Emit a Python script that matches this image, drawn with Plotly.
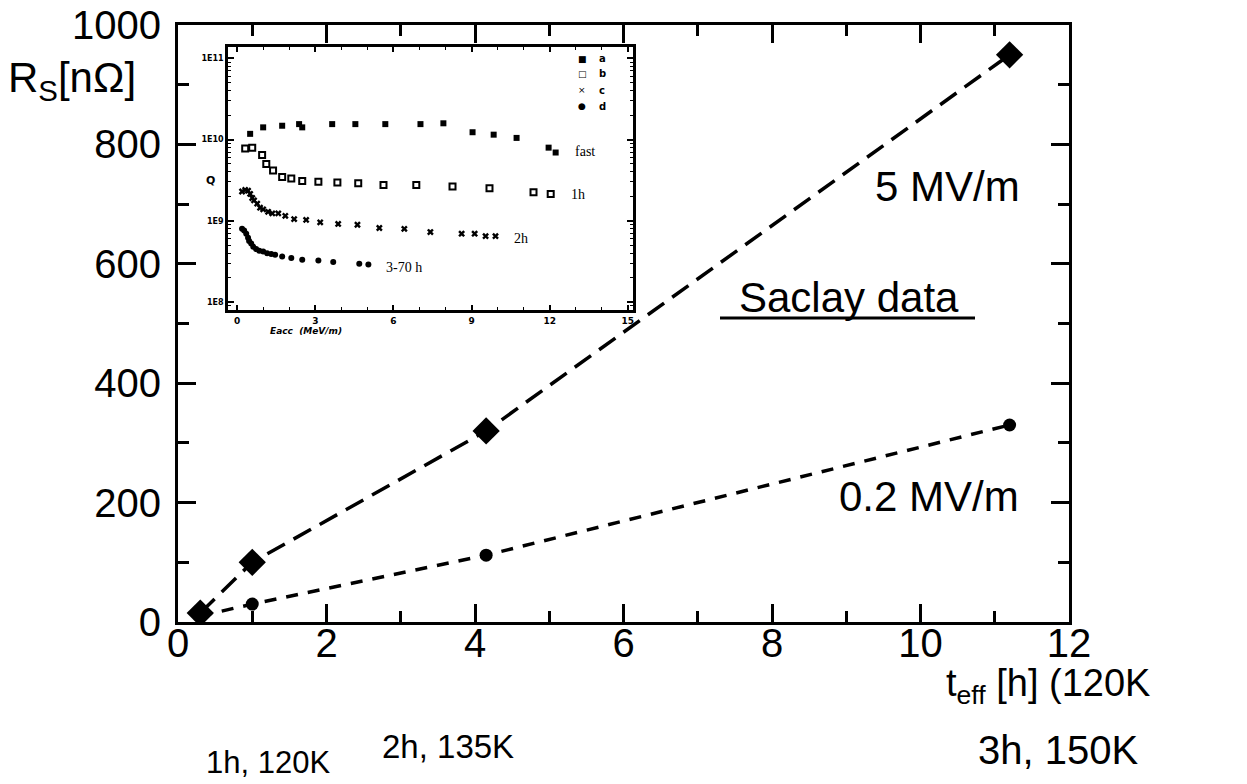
import numpy as np
import plotly.graph_objects as go

# ---------------- main chart data ----------------
t_eff = [0.3, 1.0, 4.15, 11.2]
rs_5mv = [15, 100, 320, 950]
t_eff_02 = [0.3, 1.0, 4.15, 11.2]
rs_02mv = [10, 30, 112, 330]

# ---------------- inset data (Q vs Eacc) ----------------
fast_e = [0.5, 1.0, 1.73, 2.38, 2.5, 3.65, 4.54, 5.69, 7.04, 7.92, 9.04, 9.85, 10.73, 11.96, 12.23]
fast_logq = [10.07, 10.15, 10.17, 10.19, 10.15, 10.19, 10.19, 10.19, 10.19, 10.20, 10.09, 10.06, 10.02, 9.90, 9.84]

h1_e = [0.31, 0.58, 0.96, 1.12, 1.38, 1.73, 2.08, 2.5, 3.12, 3.85, 4.65, 5.62, 6.88, 8.27, 9.69, 11.38, 12.04]
h1_logq = [9.89, 9.90, 9.81, 9.70, 9.62, 9.54, 9.52, 9.49, 9.48, 9.47, 9.46, 9.44, 9.44, 9.42, 9.40, 9.35, 9.33]

h2_e = [0.19, 0.31, 0.42, 0.5, 0.58, 0.65, 0.77, 0.88, 1.0, 1.19, 1.35, 1.58, 1.85, 2.19, 2.65, 3.19,
        3.88, 4.62, 5.46, 6.42, 7.42, 8.62, 9.12, 9.54, 9.92]
h2_logq = [9.36, 9.38, 9.37, 9.33, 9.28, 9.25, 9.21, 9.16, 9.14, 9.11, 9.09, 9.09, 9.06, 9.02, 9.01, 8.98,
           8.96, 8.95, 8.91, 8.90, 8.86, 8.84, 8.84, 8.81, 8.81]

h3_e = [0.19, 0.27, 0.35, 0.42, 0.46, 0.54, 0.62, 0.73, 0.85, 1.0, 1.15, 1.31, 1.46, 1.73, 2.08, 2.5,
        3.12, 3.69, 4.69, 5.04]
h3_logq = [8.90, 8.88, 8.84, 8.79, 8.75, 8.72, 8.68, 8.65, 8.63, 8.62, 8.60, 8.59, 8.58, 8.56, 8.54, 8.52,
           8.51, 8.49, 8.47, 8.46]

inset_xticks = [0, 3, 6, 9, 12, 15]
inset_yticks = [1e8, 1e9, 1e10, 1e11]
inset_yticktext = ["1E8", "1E9", "1E10", "1E11"]
main_xticks = [0, 2, 4, 6, 8, 10, 12]
main_yticks = [0, 200, 400, 600, 800, 1000]
legend_symbols = ["■", "□", "×", "●"]
legend_letters = ["a", "b", "c", "d"]

# ---------------- layout geometry ----------------
W, H = 1247, 784
PL, PR, PT, PB = 178, 1069, 25, 622


def px(x):
    return (x - PL) / (PR - PL)


def py(y):
    return (PB - y) / (PB - PT)


FONT = "Liberation Sans"
SERIF = "Liberation Serif"

fig = go.Figure()

fig.add_trace(go.Scatter(
    x=t_eff, y=rs_5mv, mode="lines+markers", showlegend=False,
    line=dict(color="black", width=3.5, dash="20px,10px"),
    marker=dict(symbol="diamond", size=21, color="black"),
    xaxis="x", yaxis="y"))
fig.add_trace(go.Scatter(
    x=t_eff_02, y=rs_02mv, mode="lines+markers", showlegend=False,
    line=dict(color="black", width=3.5, dash="12px,10px"),
    marker=dict(symbol="circle", size=13, color="black"),
    xaxis="x", yaxis="y"))


def q(vals):
    return [10 ** v for v in vals]


fig.add_trace(go.Scatter(x=fast_e, y=q(fast_logq), mode="markers", name="a", showlegend=False,
                         marker=dict(symbol="square", size=6, color="black"),
                         xaxis="x2", yaxis="y2"))
fig.add_trace(go.Scatter(x=h1_e, y=q(h1_logq), mode="markers", name="b", showlegend=False,
                         marker=dict(symbol="square-open", size=6, color="black", line=dict(width=2)),
                         xaxis="x2", yaxis="y2"))
fig.add_trace(go.Scatter(x=h2_e, y=q(h2_logq), mode="markers", name="c", showlegend=False,
                         marker=dict(symbol="x", size=6, color="black"),
                         xaxis="x2", yaxis="y2"))
fig.add_trace(go.Scatter(x=h3_e, y=q(h3_logq), mode="markers", name="d", showlegend=False,
                         marker=dict(symbol="circle", size=6, color="black"),
                         xaxis="x2", yaxis="y2"))

minor_log = [k * 10 ** d for d in range(7, 11) for k in range(2, 10)]

fig.update_layout(
    width=W, height=H,
    margin=dict(l=PL, r=W - PR, t=PT, b=H - PB, autoexpand=False),
    paper_bgcolor="white", plot_bgcolor="white",
    font=dict(family=FONT, color="black"),
    showlegend=False,
    xaxis=dict(range=[0, 12], domain=[0, 1], anchor="y", automargin=False,
               tickvals=main_xticks, ticks="inside", ticklen=18, tickwidth=2.5, tickcolor="black",
               minor=dict(ticks="inside", ticklen=11, tickwidth=2.5, dtick=1, tickcolor="black"),
               showline=True, linewidth=3, linecolor="black", mirror="ticks",
               showgrid=False, zeroline=False, tickfont=dict(size=40, family=FONT),
               ticklabelstandoff=-16, ticklabeloverflow="allow"),
    yaxis=dict(range=[0, 1000], domain=[0, 1], anchor="x", automargin=False,
               tickvals=main_yticks, ticks="inside", ticklen=18, tickwidth=2.5, tickcolor="black",
               minor=dict(ticks="inside", ticklen=11, tickwidth=2.5, dtick=100, tickcolor="black"),
               showline=True, linewidth=3, linecolor="black", mirror="ticks",
               showgrid=False, zeroline=False, tickfont=dict(size=40, family=FONT),
               ticklabelstandoff=6, ticklabeloverflow="allow"),
    xaxis2=dict(range=[-0.35, 15.2], domain=[px(228), px(633)], anchor="y2", automargin=False,
                tickvals=inset_xticks, ticks="inside", ticklen=5, tickwidth=1.5, tickcolor="black",
                minor=dict(ticks="inside", ticklen=3, tickwidth=1.2, dtick=1, tickcolor="black"),
                showline=True, linewidth=2.5, linecolor="black", mirror="ticks",
                showgrid=False, zeroline=False,
                tickfont=dict(size=9, family="DejaVu Sans", weight="bold")),
    yaxis2=dict(type="log", range=[7.9, 11.14], domain=[py(310), py(47)], anchor="x2", automargin=False,
                tickvals=inset_yticks, ticktext=inset_yticktext,
                ticks="inside", ticklen=6, tickwidth=1.5, tickcolor="black",
                minor=dict(ticks="inside", ticklen=3, tickwidth=1.2, tickvals=minor_log, tickcolor="black"),
                showline=True, linewidth=2.5, linecolor="black", mirror="ticks",
                showgrid=False, zeroline=False,
                tickfont=dict(size=8, family="DejaVu Sans", weight="bold")),
)

ann = []


def add_text(text, x, y, size, family=FONT, xanchor="center", yanchor="middle", **kw):
    ann.append(dict(text=text, x=px(x), y=py(y), xref="paper", yref="paper",
                    xanchor=xanchor, yanchor=yanchor, showarrow=False,
                    font=dict(size=size, family=family, color="black", **kw)))


add_text("R<sub>S</sub>[nΩ]", 6, 80, 42, xanchor="left")
add_text("t<sub>eff</sub> [h] (120K", 944, 686, 38, xanchor="left")
add_text("1h, 120K", 268, 762, 31)
add_text("2h, 135K", 448, 746, 33)
add_text("3h, 150K", 1058, 750, 40)
add_text("5 MV/m", 947, 187, 42)
add_text("0.2 MV/m", 929, 496, 42)
add_text("Saclay data", 849, 297, 42)

# inset labels
add_text("fast", 573, 151, 14, family=SERIF, xanchor="left")
add_text("1h", 569, 194, 14, family=SERIF, xanchor="left")
add_text("2h", 512, 238, 14, family=SERIF, xanchor="left")
add_text("3-70 h", 384, 267, 14, family=SERIF, xanchor="left")
add_text("Q", 210, 180, 11, family="DejaVu Sans", weight="bold")
add_text("<i>Eacc  (MeV/m)</i>", 306, 331, 9, family="DejaVu Sans", weight="bold")

# inset key
key_rows = [59, 74, 90, 106]
for sym, let, yy in zip(legend_symbols, legend_letters, key_rows):
    add_text(sym, 582, yy, 9, family="DejaVu Sans")
    add_text(let, 602, yy, 10, family="DejaVu Sans", weight="bold")

fig.update_layout(annotations=ann)

fig.add_shape(type="line", xref="paper", yref="paper",
              x0=px(720), x1=px(975), y0=py(318), y1=py(318),
              line=dict(color="black", width=3))

fig.write_html("out.html", config={"displayModeBar": False},
               post_script="document.body.style.margin='0';")
